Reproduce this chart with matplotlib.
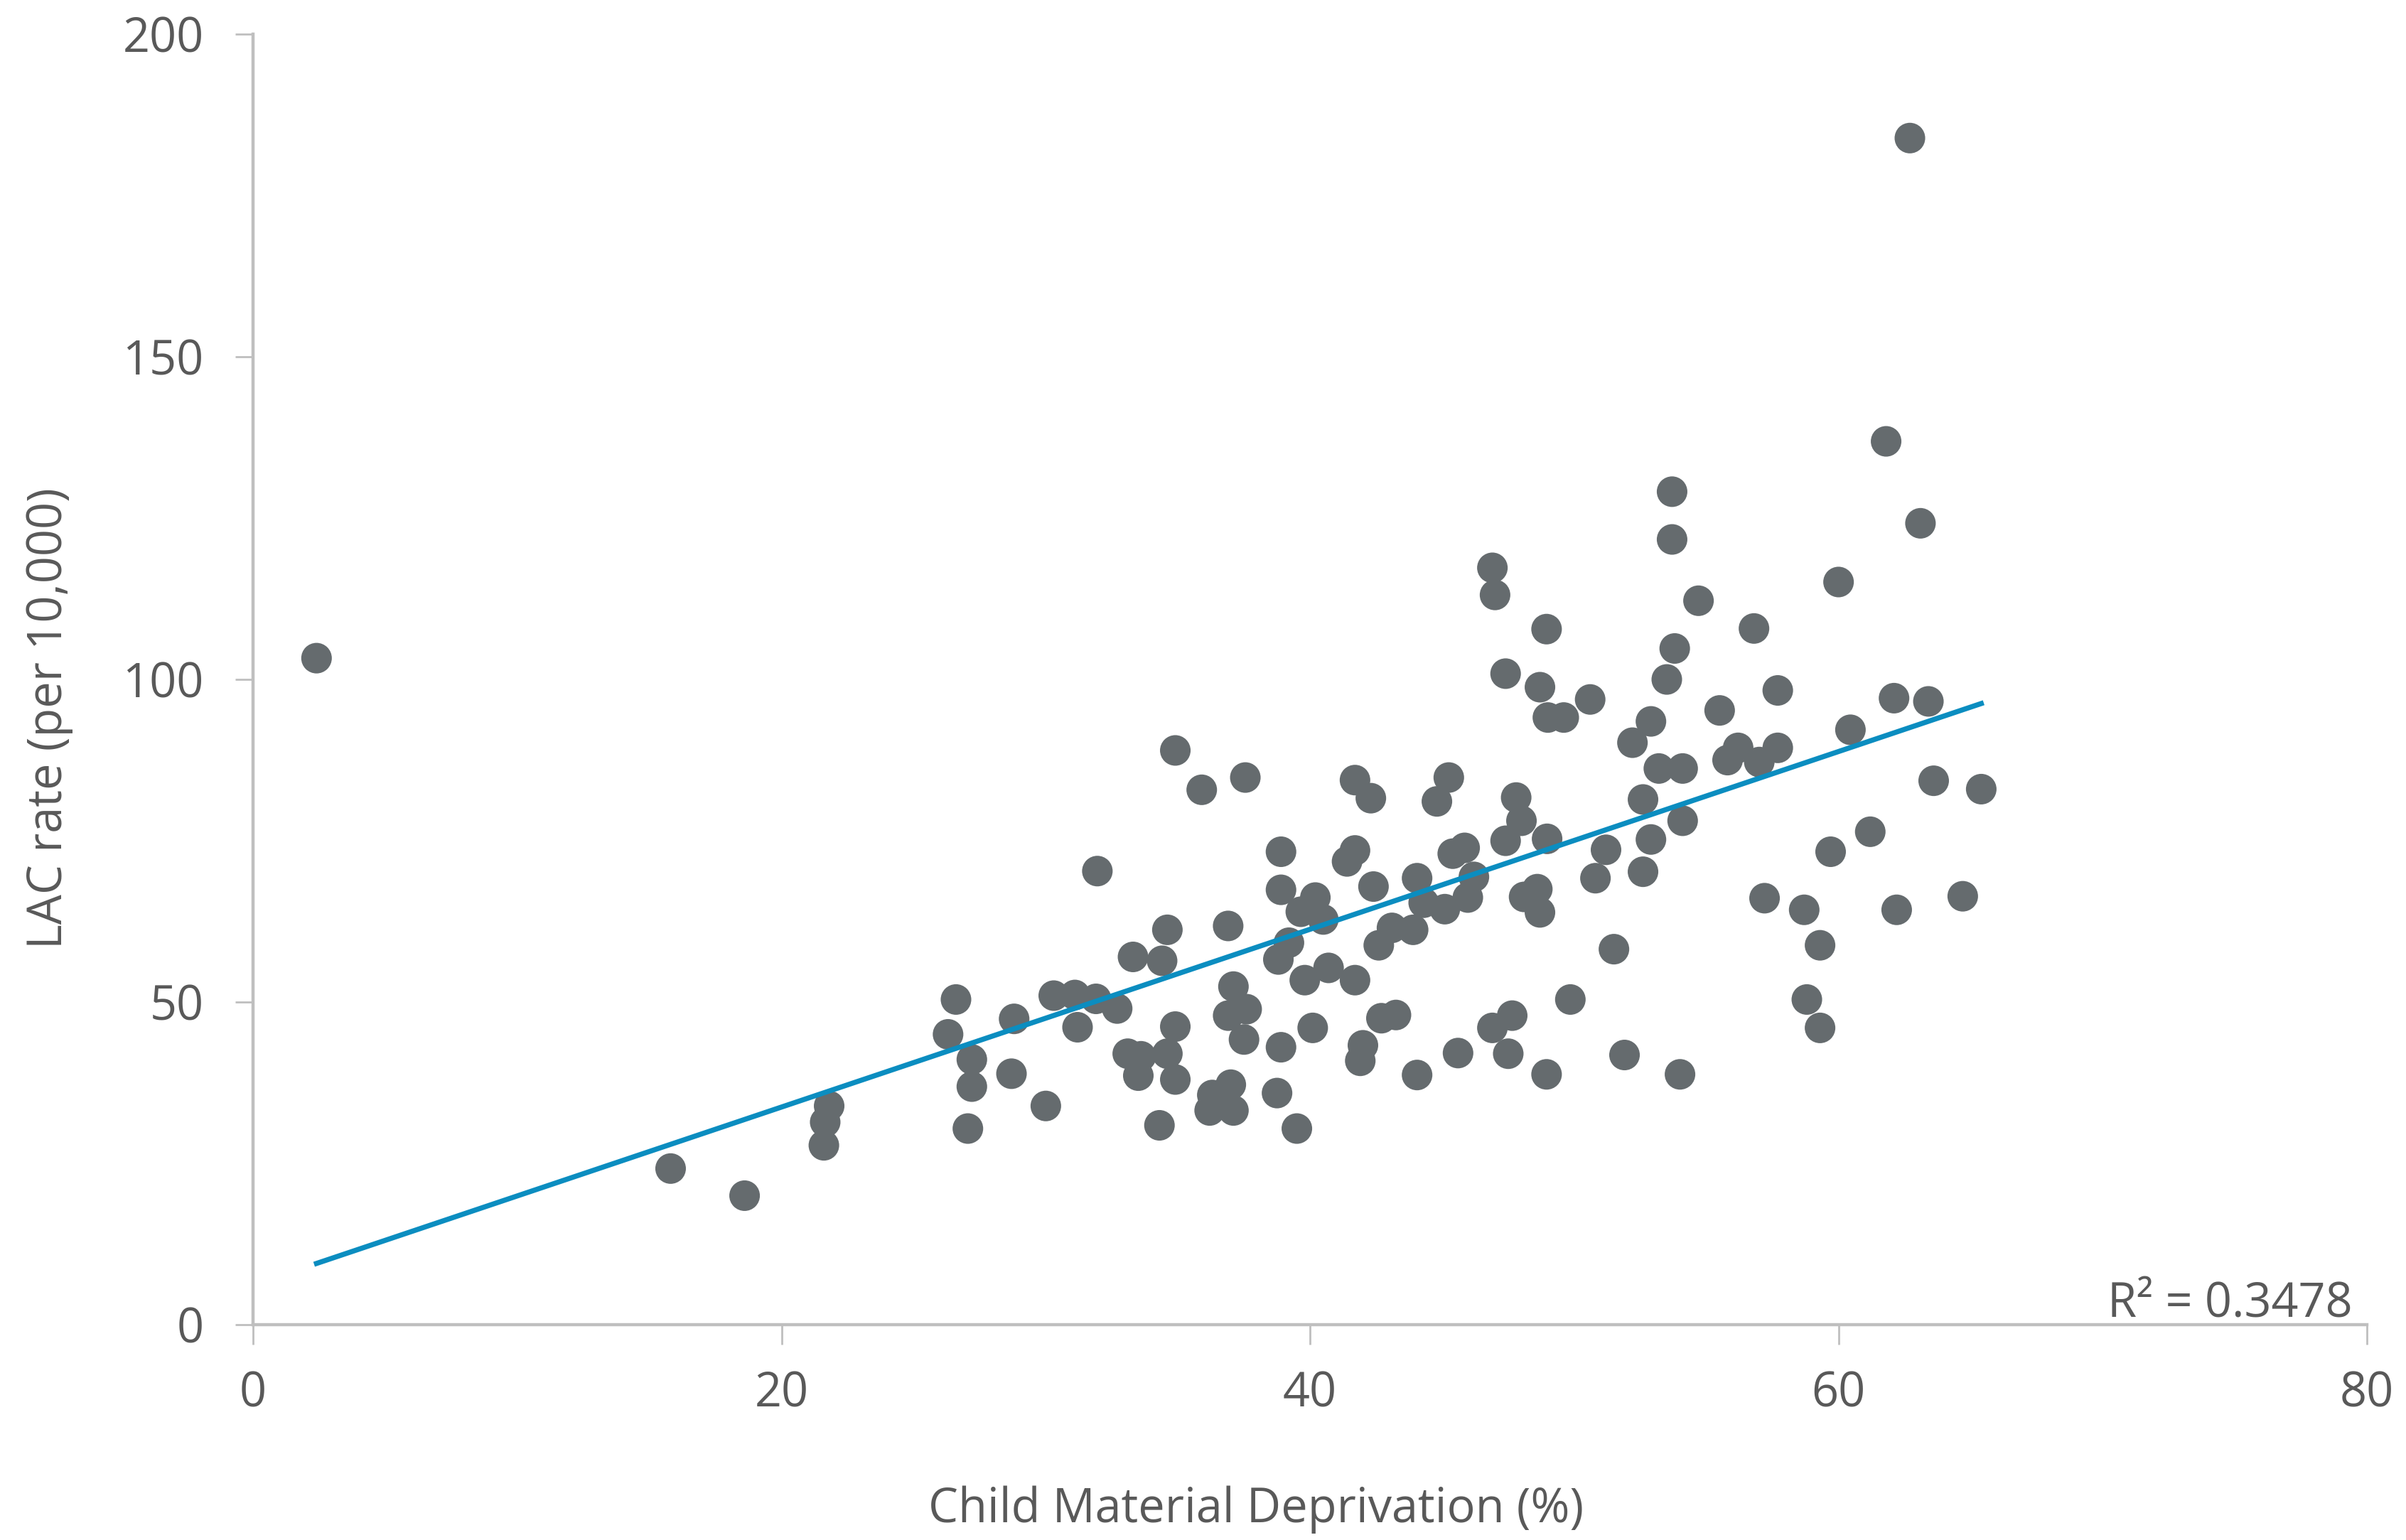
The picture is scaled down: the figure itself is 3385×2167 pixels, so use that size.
import numpy as np
import matplotlib.pyplot as plt

plt.rcParams['font.family'] = ['Open Sans', 'DejaVu Sans']

# Child material deprivation (%) vs LAC rate (per 10,000)
deprivation = [
    2.4, 15.8, 18.6, 21.6, 21.65, 21.8, 26.3, 26.6, 27.05, 27.2,
    27.2, 28.7, 28.8, 30.0, 30.3, 31.1, 31.9, 32.7, 31.2, 31.95,
    33.3, 33.1, 33.6, 33.5, 34.3, 34.4, 34.6, 34.6, 34.9, 34.9,
    34.9, 35.9, 37.55, 36.9, 37.1, 36.9, 37.6, 37.5, 36.2, 36.3,
    37.0, 37.1, 38.75, 39.5, 38.9, 38.9, 38.9, 39.2, 38.8, 39.65,
    40.2, 40.5, 39.8, 40.7, 41.7, 40.1, 41.7, 42.3, 41.7, 41.4,
    42.4, 42.6, 43.1, 43.9, 42.0, 41.9, 42.7, 43.25, 44.05, 44.05,
    44.3, 45.1, 45.97, 46.2, 45.25, 44.8, 45.4, 45.85, 45.6, 46.9,
    47.65, 47.5, 46.9, 47.0, 47.4, 47.8, 48.0, 47.4, 48.97, 48.6,
    48.1, 48.7, 48.95, 48.95, 48.7, 49.0, 49.6, 50.6, 49.85, 50.8,
    51.2, 51.5, 51.9, 52.2, 52.9, 53.2, 54.1, 52.6, 54.1, 52.9,
    52.6, 53.5, 53.8, 53.7, 53.7, 54.0, 54.7, 55.5, 55.8, 56.2,
    57.0, 57.7, 56.8, 57.7, 57.2, 58.7, 59.3, 58.8, 59.3, 59.7,
    60.0, 60.45, 61.2, 61.8, 62.1, 63.4, 63.1, 62.7, 62.2, 63.6,
    64.7, 65.4,
]
lac_rate = [
    103.3, 24.2, 20.0, 27.8, 31.4, 33.9, 45.0, 50.4, 30.4, 41.1,
    36.9, 38.9, 47.4, 33.9, 51.0, 51.1, 50.5, 49.0, 46.1, 70.3,
    57.0, 42.0, 41.6, 38.6, 30.9, 56.4, 61.2, 42.0, 38.0, 46.2,
    89.0, 82.9, 84.8, 61.8, 52.4, 47.9, 48.9, 44.2, 33.2, 35.6,
    37.2, 33.2, 35.9, 30.4, 43.0, 73.3, 67.4, 59.2, 56.6, 64.0,
    66.2, 62.8, 53.4, 55.3, 53.4, 46.0, 84.4, 81.6, 73.5, 71.8,
    67.9, 58.8, 61.5, 61.2, 43.3, 40.9, 47.5, 48.0, 38.7, 69.2,
    65.4, 64.4, 66.2, 69.4, 84.8, 81.1, 73.0, 73.9, 42.1, 46.0,
    47.9, 42.0, 117.3, 113.1, 100.9, 81.7, 78.1, 75.0, 75.3, 67.5,
    66.3, 63.9, 38.8, 107.8, 98.8, 94.1, 94.1, 96.9, 50.4, 69.2,
    73.6, 58.2, 41.8, 90.2, 93.5, 86.2, 86.2, 81.4, 78.1, 75.2,
    70.2, 100.0, 104.8, 129.1, 121.7, 38.8, 112.2, 95.2, 87.5, 89.4,
    87.2, 89.4, 107.9, 98.3, 66.1, 64.3, 58.8, 50.4, 46.0, 73.3,
    115.1, 92.2, 76.4, 136.9, 97.1, 96.6, 124.2, 183.9, 64.3, 84.3,
    66.4, 83.0,
]
x_ticks = [0, 20, 40, 60, 80]
y_ticks = [0, 50, 100, 150, 200]
r2_label = 'R² = 0.3478'

x = np.array(deprivation)
y = np.array(lac_rate)

# linear trend over the data range
slope, intercept = np.polyfit(x, y, 1)
xs = np.array([x.min(), x.max()])

fig = plt.figure(figsize=(16.925, 10.835), dpi=200)
ax = fig.add_axes([0.1052, 0.1398, 0.8786, 0.838])

ax.scatter(x, y, s=240, color='#656b6e', edgecolors='none', zorder=2)
ax.plot(xs, slope * xs + intercept, color='#0b8dc0', lw=2.6, zorder=3)

ax.set_xlim(0, 80)
ax.set_ylim(0, 200)
ax.set_xticks(x_ticks)
ax.set_yticks(y_ticks)

for s in ['top', 'right']:
    ax.spines[s].set_visible(False)
for s in ['left', 'bottom']:
    ax.spines[s].set_color('#bfbfbf')
    ax.spines[s].set_linewidth(1.6)

ax.tick_params(axis='y', length=9, width=1.0, color='#bfbfbf', pad=16,
               labelsize=24, labelcolor='#595959')
ax.tick_params(axis='x', length=10, width=1.0, color='#bfbfbf', pad=13,
               labelsize=24, labelcolor='#595959')

fig.text(0.522, 0.0195, 'Child Material Deprivation (%)', ha='center', va='center',
         fontsize=24, color='#595959')
fig.text(0.0204, 0.5335, 'LAC rate (per 10,000)', ha='center', va='center',
         rotation=90, fontsize=24, color='#595959')

ax.text(0.9933, 0.006, r2_label, transform=ax.transAxes, ha='right', va='baseline',
        fontsize=24, color='#595959')

fig.savefig('out.png', dpi=200)
